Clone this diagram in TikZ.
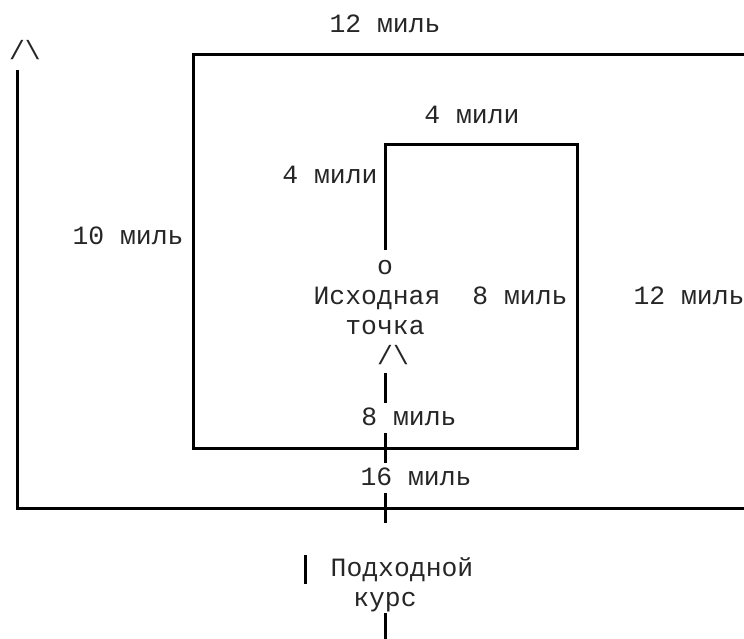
\documentclass[tikz,border=0pt]{standalone}
\usepackage{fontspec}
\setmonofont{Liberation Mono}
\begin{document}
\begin{tikzpicture}[x=1pt,y=-1pt,
  txt/.style={inner sep=0pt, anchor=base, text=black!85,
    font=\ttfamily\fontsize{26.4}{30}\selectfont},
  seg/.style={line width=3pt, black, line cap=butt, line join=miter}]
\useasboundingbox (0,0) rectangle (744,639);
% corners of the path
\coordinate (s0) at (385,250);
\coordinate (c1) at (385,145);
\coordinate (c2) at (577,145);
\coordinate (c3) at (577,448);
\coordinate (c4) at (193,448);
\coordinate (c5) at (193,55);
\coordinate (c6) at (744,55);
\coordinate (o1) at (17,70);
\coordinate (o2) at (17,508);
\coordinate (o3) at (744,508);
% approach course pieces
\coordinate (a1t) at (385,373);
\coordinate (a1b) at (385,403);
\coordinate (a2t) at (385,433);
\coordinate (a2b) at (385,463);
\coordinate (a3t) at (385,493);
\coordinate (a3b) at (385,523);
\coordinate (a4t) at (305,555);
\coordinate (a4b) at (305,584);
\coordinate (a5t) at (385,613);
\coordinate (a5b) at (385,639);

\draw[seg] (s0) -- (c1) -- (c2) -- (c3) -- (c4) -- (c5) -- (c6);
\draw[seg] (o1) -- (o2) -- (o3);
\draw[seg] (a1t) -- (a1b);
\draw[seg] (a2t) -- (a2b);
\draw[seg] (a3t) -- (a3b);
\draw[seg] (a4t) -- (a4b);
\draw[seg] (a5t) -- (a5b);

% texts
\node[txt] (t12top) at (385,33) {12 миль};
\node[txt] (arrL) at (25,60) {/\textbackslash};
\node[txt] (t4a) at (472,123.5) {4 мили};
\node[txt] (t4b) at (330,183.5) {4 мили};
\node[txt] (t10) at (128,244) {10 миль};
\node[txt] (pt) at (385,274) {o};
\node[txt] (start) at (377,304) {Исходная};
\node[txt] (t8a) at (520,304) {8 миль};
\node[txt] (t12r) at (689,304) {12 миль};
\node[txt] (tochka) at (385,334.5) {точка};
\node[txt] (arrC) at (393,364) {/\textbackslash};
\node[txt] (t8b) at (409,425.5) {8 миль};
\node[txt] (t16) at (416,485.5) {16 миль};
\node[txt] (appr1) at (402,576) {Подходной};
\node[txt] (appr2) at (385,606) {курс};
\end{tikzpicture}
\end{document}
